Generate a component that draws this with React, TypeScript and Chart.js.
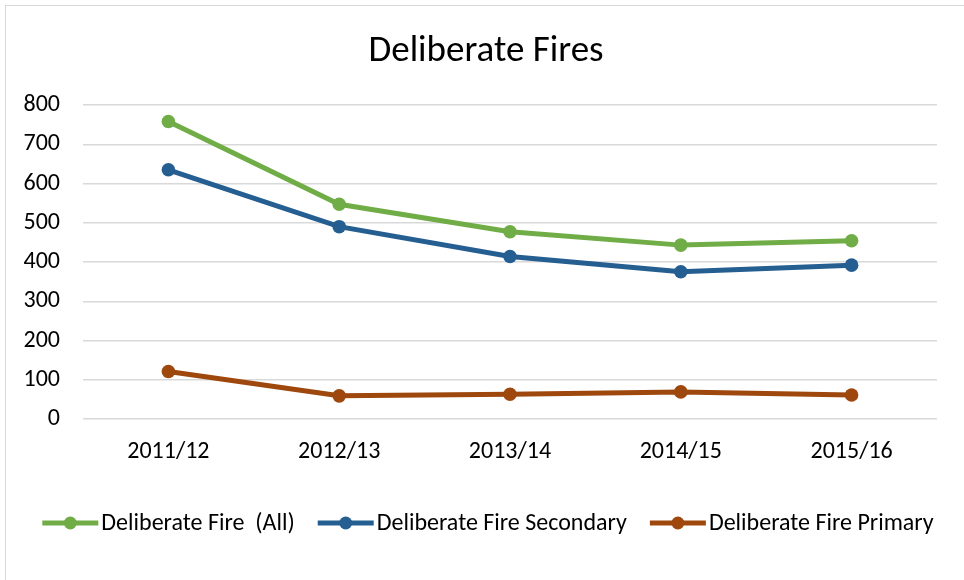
import React, { useEffect, useRef } from "react";
import { Chart, registerables } from "chart.js";

Chart.register(...registerables);

const categories = ["2011/12", "2012/13", "2013/14", "2014/15", "2015/16"];
const allFires = [758, 547, 477, 443, 454];
const secondaryFires = [635, 490, 414, 375, 392];
const primaryFires = [121, 59, 63, 69, 61];
const seriesNames = ["Deliberate Fire  (All)", "Deliberate Fire Secondary", "Deliberate Fire Primary"];
const seriesColors = ["#70AD47", "#255E91", "#9E480E"];
const yTicks = [0, 100, 200, 300, 400, 500, 600, 700, 800];

const FONT = "Carlito, 'Open Sans', sans-serif";

const overlayPlugin = {
  id: "overlay",
  afterDraw(chart: any) {
    const ctx = chart.ctx;
    ctx.save();
    // title
    ctx.fillStyle = "#000000";
    ctx.font = `37px ${FONT}`;
    ctx.textAlign = "center";
    ctx.textBaseline = "middle";
    ctx.fillText("Deliberate Fires", 486, 52);
    // legend
    ctx.font = `24px ${FONT}`;
    const lineLen = 56;
    const textGap = 3;
    const itemGap = 23;
    const ds = chart.data.datasets;
    const widths = ds.map((d: any) => lineLen + textGap + ctx.measureText(d.label).width);
    const total = widths.reduce((a: number, b: number) => a + b, 0) + itemGap * (ds.length - 1);
    let x = 488 - total / 2;
    const y = 523;
    ds.forEach((d: any, i: number) => {
      ctx.strokeStyle = d.borderColor;
      ctx.lineWidth = 5;
      ctx.lineCap = "butt";
      ctx.beginPath();
      ctx.moveTo(x, y);
      ctx.lineTo(x + lineLen, y);
      ctx.stroke();
      ctx.fillStyle = d.borderColor;
      ctx.beginPath();
      ctx.arc(x + lineLen / 2, y, 6.5, 0, Math.PI * 2);
      ctx.fill();
      ctx.fillStyle = "#000000";
      ctx.textAlign = "left";
      ctx.textBaseline = "middle";
      ctx.fillText(d.label, x + lineLen + textGap, y + 1);
      x += widths[i] + itemGap;
    });
    ctx.restore();
  },
};

export default function App() {
  const ref = useRef<HTMLCanvasElement | null>(null);
  useEffect(() => {
    if (!ref.current) return;
    const series = [allFires, secondaryFires, primaryFires];
    const chart = new Chart(ref.current, {
      type: "line",
      data: {
        labels: categories,
        datasets: series.map((values, i) => ({
          label: seriesNames[i],
          data: values,
          borderColor: seriesColors[i],
          backgroundColor: seriesColors[i],
          borderWidth: 5,
          pointRadius: 6.8,
          pointHoverRadius: 6.8,
          pointBorderWidth: 0,
          tension: 0,
        })),
      },
      options: {
        animation: false,
        responsive: false,
        devicePixelRatio: 1,
        layout: { padding: { top: 105, left: 5, right: 27, bottom: 0 } },
        plugins: {
          legend: { display: false },
          title: { display: false },
          tooltip: { enabled: false },
        },
        scales: {
          x: {
            type: "category",
            offset: true,
            grid: { display: false },
            border: { display: false },
            ticks: { color: "#000000", font: { family: FONT, size: 24 }, padding: 11, maxRotation: 0 },
            afterFit: (scale: any) => {
              scale.height = 161;
            },
          },
          y: {
            min: 0,
            max: 800,
            afterBuildTicks: (scale: any) => {
              scale.ticks = yTicks.map((v) => ({ value: v }));
            },
            grid: { color: "#D9D9D9", lineWidth: 1.5, drawTicks: false },
            border: { display: false },
            ticks: { color: "#000000", font: { family: FONT, size: 24 }, padding: 23 },
            afterFit: (scale: any) => {
              scale.width = 78;
            },
          },
        },
      },
      plugins: [overlayPlugin],
    });
    return () => chart.destroy();
  }, []);
  return (
    <div style={{ position: "fixed", left: 0, top: 0, width: 964, height: 580, background: "#fff" }}>
      <div
        style={{
          position: "absolute",
          left: 5,
          top: 5,
          width: 980,
          height: 600,
          borderLeft: "1.5px solid #D9D9D9",
          borderTop: "1.5px solid #D9D9D9",
          boxSizing: "border-box",
        }}
      />
      <canvas ref={ref} width={964} height={580} style={{ position: "absolute", left: 0, top: 0 }} />
    </div>
  );
}
